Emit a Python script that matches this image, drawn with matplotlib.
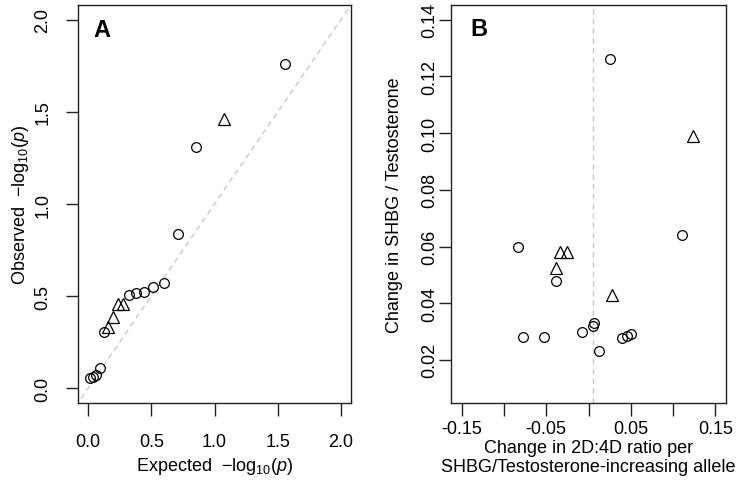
import numpy as np
import matplotlib
matplotlib.use("Agg")
import matplotlib.pyplot as plt

plt.rcParams['font.family'] = ['Liberation Sans', 'DejaVu Sans']
plt.rcParams['mathtext.fontset'] = 'custom'
plt.rcParams['mathtext.rm'] = 'Liberation Sans'
plt.rcParams['mathtext.it'] = 'Liberation Sans:italic'

# Panel A: QQ plot (expected vs observed -log10 p)
qq_expected = [1.556, 1.079, 0.857, 0.711, 0.602, 0.515, 0.442, 0.380, 0.326,
               0.277, 0.234, 0.195, 0.158, 0.125, 0.094, 0.065, 0.038, 0.012]
qq_observed = [1.76, 1.46, 1.31, 0.835, 0.569, 0.547, 0.520, 0.515, 0.504,
               0.455, 0.455, 0.385, 0.330, 0.305, 0.108, 0.070, 0.060, 0.054]
qq_triangle = [False, True, False, False, False, False, False, False, False,
               True, True, True, True, False, False, False, False, False]

# Panel B: effect on 2D:4D vs effect on SHBG / testosterone
b_circ_x = [0.025, 0.110, -0.083, -0.038, -0.078, -0.053, -0.008, 0.006, 0.005,
            0.012, 0.040, 0.046, 0.050]
b_circ_y = [0.126, 0.064, 0.060, 0.048, 0.028, 0.028, 0.030, 0.033, 0.032,
            0.023, 0.0277, 0.0284, 0.029]
b_tri_x = [0.123, -0.034, -0.026, -0.039, 0.028]
b_tri_y = [0.099, 0.058, 0.058, 0.0523, 0.043]
b_vline = 0.005

a_ticks = [0.0, 0.5, 1.0, 1.5, 2.0]
a_ticklabels = ['0.0', '0.5', '1.0', '1.5', '2.0']
b_xticks = [-0.15, -0.10, -0.05, 0.0, 0.05, 0.10, 0.15]
b_xticklabels = ['-0.15', '', '-0.05', '', '0.05', '', '0.15']
b_yticks = [0.02, 0.04, 0.06, 0.08, 0.10, 0.12, 0.14]
b_yticklabels = ['0.02', '0.04', '0.06', '0.08', '0.10', '0.12', '0.14']

W, H = 748, 481
fig = plt.figure(figsize=(W / 100, H / 100), dpi=100)

def px_axes(l, t, r, b):
    return fig.add_axes([l / W, 1 - b / H, (r - l) / W, (b - t) / H])

axA = px_axes(78, 6, 351, 404)
axB = px_axes(451, 6, 726, 404)

grey = '#c8c8c8'
fs = 13

for ax in (axA, axB):
    for s in ax.spines.values():
        s.set_linewidth(1.0)
        s.set_color('#222222')
    ax.tick_params(length=9, width=1.0, color='#222222', labelsize=fs)

# ---- A ----
axA.plot([-0.1, 2.1], [-0.1, 2.1], ls=(0, (4, 3)), color=grey, lw=1.0, zorder=1)
ex = np.array(qq_expected)
ob = np.array(qq_observed)
tri = np.array(qq_triangle)
axA.plot(ex[~tri], ob[~tri], 'o', mfc='none', mec='black', ms=7, mew=0.9)
axA.plot(ex[tri], ob[tri], '^', mfc='none', mec='black', ms=8, mew=0.9)
axA.set_xlim(-0.08, 2.08)
axA.set_ylim(-0.08, 2.08)
axA.set_xticks(a_ticks)
axA.set_xticklabels(a_ticklabels)
axA.set_yticks(a_ticks)
axA.set_yticklabels(a_ticklabels, rotation=90, va='center')
axA.tick_params(axis='x', pad=12.5)
axA.tick_params(axis='y', pad=10)
axA.set_xlabel('Expected  $-\\mathrm{log}_{10}(\\mathit{p})$', fontsize=fs)
axA.set_ylabel('Observed  $-\\mathrm{log}_{10}(\\mathit{p})$', fontsize=fs)
axA.xaxis.set_label_coords(0.5, -0.158)
axA.xaxis.label.set_va('center')
axA.yaxis.set_label_coords(-0.21, 0.5)
axA.yaxis.label.set_va('center')
axA.text(0.055, 0.922, 'A', transform=axA.transAxes, fontsize=17,
         fontweight='bold', va='baseline', ha='left')

# ---- B ----
axB.axvline(b_vline, ls=(0, (4, 3)), color=grey, lw=1.0, zorder=1)
axB.plot(b_circ_x, b_circ_y, 'o', mfc='none', mec='black', ms=7, mew=0.9)
axB.plot(b_tri_x, b_tri_y, '^', mfc='none', mec='black', ms=8, mew=0.9)
axB.set_xlim(-0.1626, 0.1626)
axB.set_ylim(0.0048, 0.1452)
axB.set_xticks(b_xticks)
axB.set_xticklabels(b_xticklabels)
axB.set_yticks(b_yticks)
axB.set_yticklabels(b_yticklabels, rotation=90, va='center')
axB.tick_params(axis='x', pad=3.6)
axB.tick_params(axis='y', pad=0.5)
axB.set_xlabel('Change in 2D:4D ratio per\nSHBG/Testosterone-increasing allele',
               fontsize=fs, linespacing=1.2)
axB.set_ylabel('Change in SHBG / Testosterone', fontsize=fs)
axB.xaxis.set_label_coords(0.5, -0.136)
axB.xaxis.label.set_va('center')
axB.yaxis.set_label_coords(-0.205, 0.5)
axB.yaxis.label.set_va('center')
axB.text(0.069, 0.925, 'B', transform=axB.transAxes, fontsize=17,
         fontweight='bold', va='baseline', ha='left')

fig.savefig('out.png', dpi=100)
